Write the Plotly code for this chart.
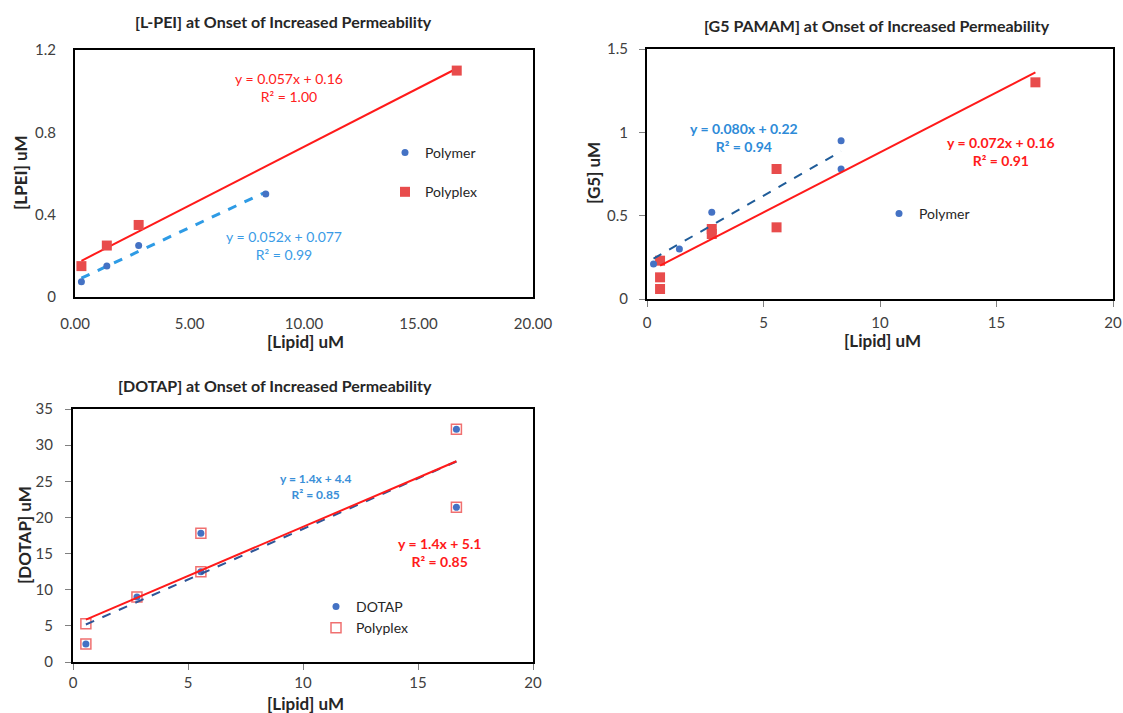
import plotly.graph_objects as go

# ---------------- data ----------------
# Panel 1: L-PEI
lpei_polymer_x = [0.28, 1.39, 2.78, 8.33]
lpei_polymer_y = [0.074, 0.15, 0.25, 0.50]
lpei_polyplex_x = [0.28, 1.39, 2.78, 16.67]
lpei_polyplex_y = [0.15, 0.25, 0.35, 1.10]
lpei_polymer_fit = [0.052, 0.077]   # slope, intercept
lpei_polyplex_fit = [0.057, 0.16]

# Panel 2: G5 PAMAM
g5_polymer_x = [0.28, 1.39, 2.78, 8.33, 8.33]
g5_polymer_y = [0.21, 0.30, 0.52, 0.95, 0.78]
g5_polyplex_x = [0.56, 0.56, 0.56, 2.78, 2.78, 5.56, 5.56, 16.67]
g5_polyplex_y = [0.23, 0.13, 0.06, 0.42, 0.39, 0.78, 0.43, 1.30]
g5_polymer_fit = [0.080, 0.22]
g5_polyplex_fit = [0.072, 0.16]

# Panel 3: DOTAP
dotap_x = [0.56, 2.78, 5.56, 5.56, 16.67, 16.67]
dotap_y = [2.5, 9.0, 17.8, 12.5, 32.2, 21.4]
dotap_polyplex_x = [0.56, 0.56, 2.78, 5.56, 5.56, 16.67, 16.67]
dotap_polyplex_y = [5.3, 2.5, 9.0, 17.8, 12.5, 32.2, 21.4]
dotap_fit = [1.40, 4.4]
dotap_polyplex_fit = [1.36, 5.1]

# ---------------- styling ----------------
FONT = "Lato"
BLUE = "#4472C4"
RED_MK = "#E84C4C"
RED_LN = "#FF1A1A"
TXT = "#404040"


def fit_line(xs, fit):
    x0, x1 = min(xs), max(xs)
    return [x0, x1], [fit[0] * x0 + fit[1], fit[0] * x1 + fit[1]]


fig = go.Figure()

# ---- panel 1 ----
fx, fy = fit_line(lpei_polyplex_x, lpei_polyplex_fit)
fig.add_trace(go.Scatter(x=fx, y=fy, mode="lines", line=dict(color=RED_LN, width=2),
                         showlegend=False, xaxis="x", yaxis="y"))
fx, fy = fit_line(lpei_polymer_x, lpei_polymer_fit)
fig.add_trace(go.Scatter(x=fx, y=fy, mode="lines", line=dict(color="#2E9BE5", width=3, dash="dash"),
                         showlegend=False, xaxis="x", yaxis="y"))
fig.add_trace(go.Scatter(x=lpei_polymer_x, y=lpei_polymer_y, mode="markers", name="Polymer",
                         marker=dict(color=BLUE, size=7, symbol="circle"),
                         legend="legend", legendgroup="a", xaxis="x", yaxis="y"))
fig.add_trace(go.Scatter(x=lpei_polyplex_x, y=lpei_polyplex_y, mode="markers", name="Polyplex",
                         marker=dict(color=RED_MK, size=10, symbol="square"),
                         legend="legend", legendgroup="b", xaxis="x", yaxis="y"))

# ---- panel 2 ----
fig.add_trace(go.Scatter(x=g5_polyplex_x, y=g5_polyplex_y, mode="markers", name="Polyplex",
                         marker=dict(color=RED_MK, size=10, symbol="square"),
                         showlegend=False, xaxis="x2", yaxis="y2"))
fig.add_trace(go.Scatter(x=g5_polymer_x, y=g5_polymer_y, mode="markers", name="Polymer",
                         marker=dict(color=BLUE, size=7, symbol="circle"),
                         legend="legend2", xaxis="x2", yaxis="y2"))
fx, fy = fit_line(g5_polyplex_x, g5_polyplex_fit)
fig.add_trace(go.Scatter(x=fx, y=fy, mode="lines", line=dict(color=RED_LN, width=2),
                         showlegend=False, xaxis="x2", yaxis="y2"))
fx, fy = fit_line(g5_polymer_x, g5_polymer_fit)
fig.add_trace(go.Scatter(x=fx, y=fy, mode="lines", line=dict(color="#1F5C99", width=2, dash="dash"),
                         showlegend=False, xaxis="x2", yaxis="y2"))

# ---- panel 3 ----
fig.add_trace(go.Scatter(x=dotap_polyplex_x, y=dotap_polyplex_y, mode="markers", name="Polyplex",
                         marker=dict(color="#F07070", size=10, symbol="square-open",
                                     line=dict(width=1.5)),
                         legend="legend3", legendgroup="d", xaxis="x3", yaxis="y3"))
fig.add_trace(go.Scatter(x=dotap_x, y=dotap_y, mode="markers", name="DOTAP",
                         marker=dict(color=BLUE, size=7, symbol="circle"),
                         legend="legend3", legendgroup="c", xaxis="x3", yaxis="y3"))
fx, fy = fit_line(dotap_x, dotap_fit)
fig.add_trace(go.Scatter(x=fx, y=fy, mode="lines", line=dict(color="#2F5597", width=2, dash="dash"),
                         showlegend=False, xaxis="x3", yaxis="y3"))
fx, fy = fit_line(dotap_polyplex_x, dotap_polyplex_fit)
fig.add_trace(go.Scatter(x=fx, y=fy, mode="lines", line=dict(color=RED_LN, width=2),
                         showlegend=False, xaxis="x3", yaxis="y3"))

W, H = 1123, 713


def px(x):
    return x / W


def py(y):
    return 1 - y / H


axis_common = dict(showline=True, mirror=True, linecolor="black", linewidth=2,
                   showgrid=False, zeroline=False, automargin=False,
                   tickfont=dict(family=FONT, size=15, color=TXT))

fig.update_layout(
    width=W, height=H, margin=dict(l=0, r=0, t=0, b=0, autoexpand=False),
    paper_bgcolor="white", plot_bgcolor="white",
    font=dict(family=FONT, color=TXT),
    xaxis=dict(domain=[px(75), px(533)], range=[0, 20], tickvals=[0, 5, 10, 15, 20],
               tickformat=".2f", ticks="", ticklabelstandoff=12, anchor="y", **axis_common),
    yaxis=dict(domain=[py(297), py(50)], range=[0, 1.2], tickvals=[0, 0.4, 0.8, 1.2],
               ticks="", ticklabelstandoff=14, anchor="x", **axis_common),
    xaxis2=dict(domain=[px(647), px(1113)], range=[0, 20], tickvals=[0, 5, 10, 15, 20],
                ticks="outside", ticklen=6, tickcolor="#808080", ticklabelstandoff=3,
                anchor="y2", **axis_common),
    yaxis2=dict(domain=[py(299), py(49)], range=[0, 1.5], tickvals=[0, 0.5, 1, 1.5],
                ticks="outside", ticklen=6, tickcolor="#808080", ticklabelstandoff=8,
                anchor="x2", **axis_common),
    xaxis3=dict(domain=[px(73), px(533)], range=[0, 20], tickvals=[0, 5, 10, 15, 20],
                ticks="outside", ticklen=6, tickcolor="#808080", anchor="y3", **axis_common),
    yaxis3=dict(domain=[py(662), py(409)], range=[0, 35], tickvals=list(range(0, 40, 5)),
                ticks="outside", ticklen=6, tickcolor="#808080", ticklabelstandoff=9,
                anchor="x3", **axis_common),
    legend=dict(x=px(385), y=py(137), xanchor="left", yanchor="top", bgcolor="rgba(0,0,0,0)",
                font=dict(family=FONT, size=14, color="#262626"), tracegroupgap=18,
                itemwidth=30),
    legend2=dict(x=px(879), y=py(198), xanchor="left", yanchor="top", bgcolor="rgba(0,0,0,0)",
                 font=dict(family=FONT, size=14, color="#262626"), itemwidth=30),
    legend3=dict(x=px(316), y=py(591), xanchor="left", yanchor="top", bgcolor="rgba(0,0,0,0)",
                 font=dict(family=FONT, size=14, color="#262626"), tracegroupgap=0,
                 traceorder="reversed", itemwidth=30),
)

ann = []
# titles
for text, x, y in [("[L-PEI] at Onset of Increased Permeability", 283, 22),
                   ("[G5 PAMAM] at Onset of Increased Permeability", 877, 25),
                   ("[DOTAP] at Onset of Increased Permeability", 275, 385)]:
    ann.append(dict(text=f"<b>{text}</b>", x=px(x), y=py(y), xref="paper", yref="paper",
                    xanchor="center", yanchor="middle",
                    showarrow=False, font=dict(family=FONT, size=16, color="#262626")))
# axis titles
for text, x, y, ang in [("[Lipid] uM", 305, 342, 0), ("[LPEI] uM", 20, 173, -90),
                        ("[Lipid] uM", 882, 340, 0), ("[G5] uM", 593, 173, -90),
                        ("[Lipid] uM", 305, 703, 0), ("[DOTAP] uM", 24, 535, -90)]:
    ann.append(dict(text=f"<b>{text}</b>", x=px(x), y=py(y), xref="paper", yref="paper",
                    xanchor="center", yanchor="middle",
                    showarrow=False, textangle=ang, font=dict(family=FONT, size=17, color="#262626")))
# equations
eq = [
    ("y = 0.057x + 0.16<br>R² = 1.00", 9.35, 1.018, "x", "y", 14, "#FF2020"),
    ("y = 0.052x + 0.077<br>R² = 0.99", 9.13, 0.248, "x", "y", 14, "#3A9BE6"),
    ("<b>y = 0.080x + 0.22<br>R² = 0.94</b>", 4.15, 0.972, "x2", "y2", 14, "#2E8BD8"),
    ("<b>y = 0.072x + 0.16<br>R² = 0.91</b>", 15.2, 0.884, "x2", "y2", 14, "#FF1A1A"),
    ("<b>y = 1.4x + 4.4<br>R² = 0.85</b>", 10.55, 24.3, "x3", "y3", 12, "#3A8FD8"),
    ("<b>y = 1.4x + 5.1<br>R² = 0.85</b>", 15.95, 15.2, "x3", "y3", 14, "#FF1A1A"),
]
for text, x, y, xr, yr, size, color in eq:
    ann.append(dict(text=text, x=x, y=y, xref=xr, yref=yr, xanchor="center", yanchor="middle",
                    showarrow=False, font=dict(family=FONT, size=size, color=color)))
fig.update_layout(annotations=ann)

fig.write_html("out.html")
